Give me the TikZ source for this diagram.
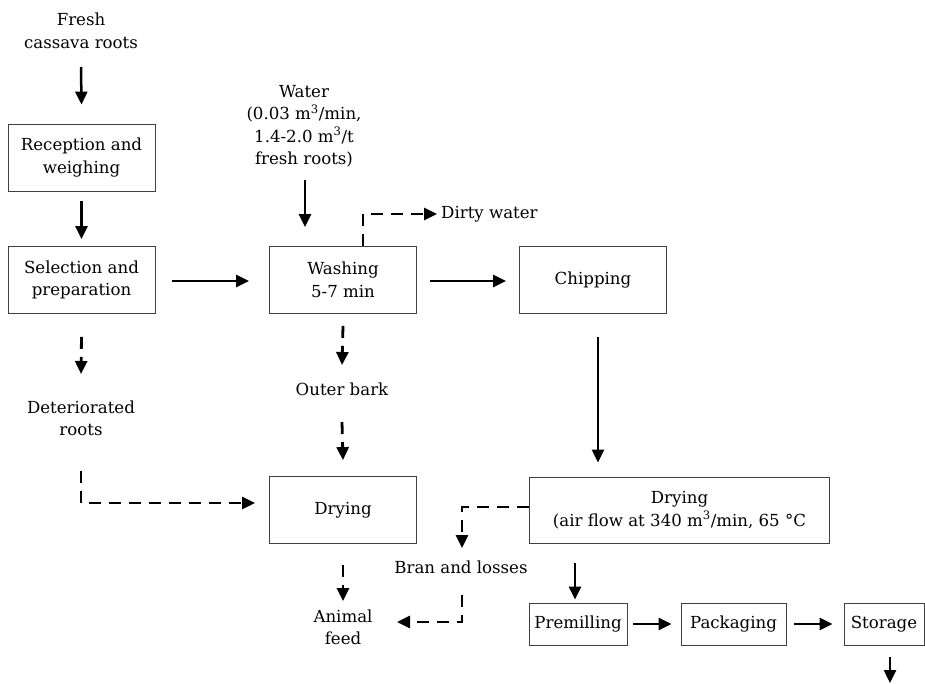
\documentclass[tikz,border=0pt]{standalone}
\usepackage{fontspec}
\setmainfont{DejaVu Serif}
\usetikzlibrary{arrows.meta}
\begin{document}
\begin{tikzpicture}[x=1pt,y=-1pt,
  every node/.style={font=\fontsize{16.6}{22.5}\selectfont, align=center, inner sep=2pt},
  box/.style={draw=black!75, line width=0.8pt, inner sep=0pt},
  stage/.style={box, minimum width=147pt, minimum height=67pt},
  small/.style={box, minimum height=42pt},
  flow/.style={-{Triangle[length=13pt,width=12pt]}, line width=2.5pt},
  side/.style={flow, dash pattern=on 12pt off 8pt, line width=2.8pt}]
\useasboundingbox (0,0) rectangle (925,683);

% main process stages
\node[stage] (rec)  at (81.5,157.5) {Reception and\\weighing};
\node[stage] (sel)  at (81.5,280)   {Selection and\\preparation};
\node[stage] (wash) at (343,280)    {Washing\\5-7 min};
\node[stage] (chip) at (593,280)    {Chipping};
\node[stage] (dry1) at (343,510)    {Drying};
\node[box, minimum width=300pt, minimum height=66pt] (dry2) at (679.5,510)
  {Drying\\(air flow at 340 m\textsuperscript{3}/min, 65 °C};
\node[small, minimum width=98pt]  (prem) at (578,624)   {Premilling};
\node[small, minimum width=105pt] (pack) at (733.5,624) {Packaging};
\node[small, minimum width=80pt]  (stor) at (884,624)   {Storage};

% inputs and by-products
\node (fresh) at (81,31)   {Fresh\\cassava roots};
\node (water) at (304,126) {Water\\(0.03 m\textsuperscript{3}/min,\\1.4-2.0 m\textsuperscript{3}/t\\fresh roots)};
\node[anchor=west, inner sep=4pt] (dirty) at (437,214) {Dirty water};
\node (outer) at (342,389)   {Outer bark};
\node (deter) at (81,418.5)  {Deteriorated\\roots};
\node (bran)  at (461,567)   {Bran and losses};
\node (feed)  at (343,627.5) {Animal\\feed};
\coordinate (out) at (890,683);

% main flow
\draw[flow] ([yshift=-36pt]fresh.center) -- ([yshift=19pt]rec.north);
\draw[flow] ([yshift=-10pt]rec.south) -- ([yshift=7pt]sel.north);
\draw[flow] ([xshift=17pt,yshift=-1pt]sel.east) -- ([xshift=-20pt,yshift=-1pt]wash.west);
\draw[flow] ([xshift=13pt,yshift=-1pt]wash.east) -- ([xshift=-13pt,yshift=-1pt]chip.west);
\draw[flow] ([xshift=1pt,yshift=-54pt]water.center) -- ([xshift=1pt,yshift=19pt]water.center |- wash.north);
\draw[flow] ([xshift=5pt,yshift=-23pt]chip.south) -- ([xshift=5pt,yshift=14pt]chip.south |- dry2.north);
\draw[flow] ([xshift=-3pt,yshift=-20pt]prem.north |- dry2.south) -- ([xshift=-3pt,yshift=3pt]prem.north);
\draw[flow] ([xshift=6pt]prem.east) -- ([xshift=-9pt]pack.west);
\draw[flow] ([xshift=8pt]pack.east) -- ([xshift=-11pt]stor.west);
\draw[flow] ([xshift=6pt,yshift=-12pt]stor.south) -- (out);

% side streams
\draw[side] ([xshift=20pt]wash.north) |- (dirty.west);
\draw[side] ([yshift=-12pt]wash.south) -- ([yshift=24pt]outer.center);
\draw[side] ([yshift=-33pt]outer.center) -- ([yshift=16pt]dry1.north);
\draw[side] ([yshift=-23pt]sel.south) -- ([yshift=44.5pt]deter.center);
\draw[side] ([yshift=-52pt]deter.center) |- ([xshift=-14pt,yshift=7pt]dry1.west);
\draw[side] ([yshift=3pt]dry2.west) -| ([xshift=1pt,yshift=19pt]bran.center);
\draw[side] ([xshift=1pt,yshift=-28pt]bran.center) |- ([xshift=54pt,yshift=5.5pt]feed.center);
\draw[side] ([yshift=-21pt]dry1.south) -- ([yshift=26.5pt]feed.center);
\end{tikzpicture}
\end{document}
